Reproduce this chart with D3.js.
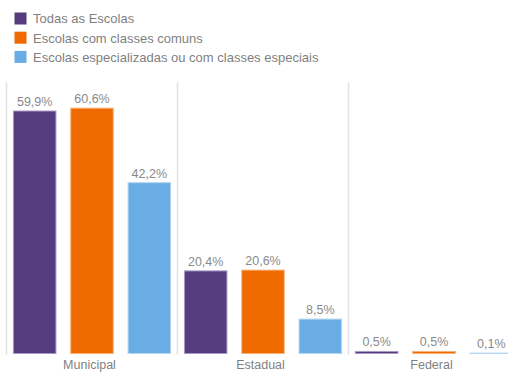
<!DOCTYPE html>
<html>
<head>
<meta charset="utf-8">
<script src="https://cdn.jsdelivr.net/npm/d3@7"></script>
<style>
  html, body { margin: 0; padding: 0; background: #fff; }
  svg { display: block; font-family: "Liberation Sans", Arial, sans-serif; }
</style>
</head>
<body>
<svg id="chart" width="508" height="373"></svg>
<script>
// Share of enrolments by administrative network
const categories = ["Municipal", "Estadual", "Federal"];
const seriesNames = ["Todas as Escolas", "Escolas com classes comuns", "Escolas especializadas ou com classes especiais"];
const seriesColors = ["#553c7f", "#ef6b00", "#6aade4"];
const seriesStrokes = ["#a898c4", "#f7b27a", "#b5d6f1"];
const todas = [59.9, 20.4, 0.5];
const comuns = [60.6, 20.6, 0.5];
const especiais = [42.2, 8.5, 0.1];
const valueLabels = [
  ["59,9%", "20,4%", "0,5%"],
  ["60,6%", "20,6%", "0,5%"],
  ["42,2%", "8,5%", "0,1%"]
];
const seriesValues = [todas, comuns, especiais];

const svg = d3.select("#chart");
const baseY = 353.5;

const x0 = d3.scaleBand().domain(categories).range([6.5, 6.5 + 171 * 3]).padding(0);
const x1 = d3.scaleBand().domain(d3.range(seriesNames.length))
  .range([0, x0.bandwidth()]).paddingInner(0.241).paddingOuter(0.112);
const y = d3.scaleLinear().domain([0, 60]).range([baseY, 110.6]);

// Group separators
svg.append("g").selectAll("line")
  .data(categories)
  .join("line")
  .attr("x1", d => x0(d)).attr("x2", d => x0(d))
  .attr("y1", 82).attr("y2", baseY + 1)
  .attr("stroke", "#e2e2e2").attr("stroke-width", 1.5);

// Bars
const groups = svg.append("g").selectAll("g")
  .data(categories)
  .join("g")
  .attr("transform", d => `translate(${x0(d)},0)`);

groups.selectAll("rect")
  .data((c, ci) => seriesValues.map((vals, si) => ({ si, v: vals[ci], label: valueLabels[si][ci] })))
  .join("rect")
  .attr("x", d => x1(d.si) + 0.5)
  .attr("width", x1.bandwidth() - 1)
  .attr("y", d => y(d.v))
  .attr("height", d => baseY - y(d.v))
  .attr("fill", d => seriesColors[d.si])
  .attr("stroke", d => seriesStrokes[d.si])
  .attr("stroke-width", 1);

// Value labels
groups.selectAll("text")
  .data((c, ci) => seriesValues.map((vals, si) => ({ si, v: vals[ci], label: valueLabels[si][ci] })))
  .join("text")
  .attr("x", d => x1(d.si) + x1.bandwidth() / 2)
  .attr("y", d => y(d.v) - 5)
  .attr("text-anchor", "middle")
  .attr("font-size", 12.5)
  .attr("fill", "#8a8a8a")
  .text(d => d.label);

// Category axis labels
const xAxis = d3.axisBottom(x0).tickSize(0).tickPadding(0);
const axisG = svg.append("g").attr("transform", `translate(-2.5,${baseY + 7})`).call(xAxis);
axisG.select(".domain").remove();
axisG.selectAll("text")
  .attr("font-size", 12.5)
  .attr("font-family", "\"Liberation Sans\", Arial, sans-serif")
  .attr("fill", "#7f7f7f");

// Legend
const legend = svg.append("g").attr("transform", "translate(14.5,12.5)");
const items = legend.selectAll("g")
  .data(seriesNames)
  .join("g")
  .attr("transform", (d, i) => `translate(0,${i * 19.2})`);
items.append("rect")
  .attr("width", 12).attr("height", 12)
  .attr("fill", (d, i) => seriesColors[i]);
items.append("text")
  .attr("x", 18.5).attr("y", 10.8)
  .attr("font-size", 13)
  .attr("fill", "#7f7f7f")
  .text(d => d);
</script>
</body>
</html>
